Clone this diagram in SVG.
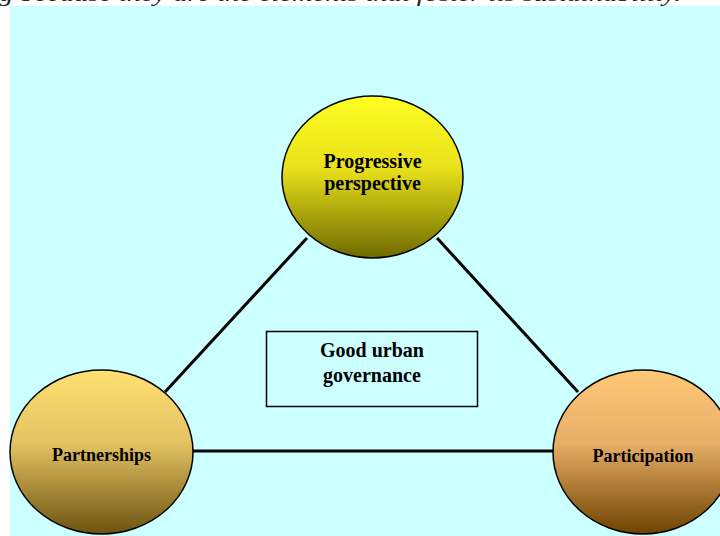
<svg xmlns="http://www.w3.org/2000/svg" width="720" height="536" viewBox="0 0 720 536">
<defs>
<linearGradient id="gTop" x1="0" y1="0" x2="0" y2="1">
<stop offset="0" stop-color="#FFFF22"/><stop offset="0.45" stop-color="#E8E01A"/><stop offset="1" stop-color="#6E6A00"/>
</linearGradient>
<linearGradient id="gLeft" x1="0" y1="0" x2="0" y2="1">
<stop offset="0" stop-color="#FFE070"/><stop offset="0.45" stop-color="#E2C262"/><stop offset="1" stop-color="#6C5210"/>
</linearGradient>
<linearGradient id="gRight" x1="0" y1="0" x2="0" y2="1">
<stop offset="0" stop-color="#FFC878"/><stop offset="0.45" stop-color="#E6AE66"/><stop offset="1" stop-color="#6E4200"/>
</linearGradient>
<style>
.node{stroke:#000;stroke-width:1.5}
.lbl{font-family:"Liberation Serif","Times New Roman",serif;font-weight:bold;font-size:18px;fill:#000;text-anchor:middle}
.big{font-size:20px}
.conn line{stroke:#000;stroke-width:3}
</style>
</defs>
<rect x="0" y="0" width="720" height="536" fill="#FFFFFF"/>
<text x="-1" y="1" font-family="'Liberation Serif','Times New Roman',serif" font-style="italic" font-size="22" fill="#222" textLength="682" lengthAdjust="spacingAndGlyphs">g because they are the elements that foster its sustainability.</text>
<rect x="10" y="6" width="710" height="530" fill="#CCFFFF"/>
<g id="connectors" class="conn">
<line x1="307" y1="238" x2="165" y2="392"/>
<line x1="437" y1="238" x2="578" y2="392"/>
<line x1="191" y1="451" x2="555" y2="451"/>
</g>
<g id="center">
<rect x="266.5" y="331.5" width="211" height="75" fill="#CCFFFF" stroke="#000" stroke-width="1.5"/>
<text class="lbl big" x="372" y="357">Good urban</text>
<text class="lbl big" x="372" y="382">governance</text>
</g>
<g id="progressive">
<ellipse class="node" cx="372.5" cy="177" rx="90.5" ry="81" fill="url(#gTop)"/>
<text class="lbl big" x="372.5" y="168">Progressive</text>
<text class="lbl big" x="372.5" y="190">perspective</text>
</g>
<g id="partnerships">
<ellipse class="node" cx="101.5" cy="452" rx="91.5" ry="82" fill="url(#gLeft)"/>
<text class="lbl" x="101.5" y="461">Partnerships</text>
</g>
<g id="participation">
<ellipse class="node" cx="643" cy="452" rx="90" ry="82" fill="url(#gRight)"/>
<text class="lbl" x="643" y="462">Participation</text>
</g>
</svg>
